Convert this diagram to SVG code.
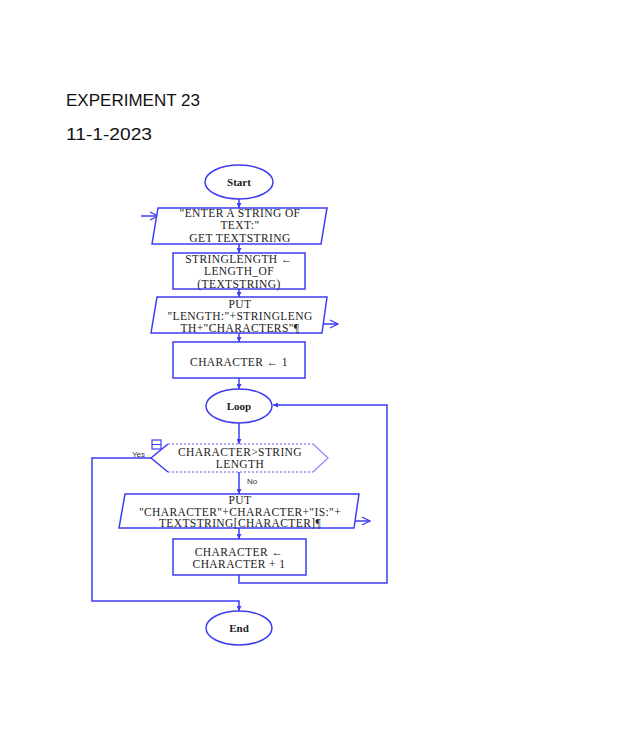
<svg xmlns="http://www.w3.org/2000/svg" width="641" height="741" viewBox="0 0 641 741">
<style>
.sh{fill:#fff;stroke:#3d3df2;stroke-width:1.5}
.ln{fill:none;stroke:#3d3df2;stroke-width:1.5}
.t{font-family:"Liberation Serif",serif;font-size:11.5px;letter-spacing:0.4px;fill:#222;text-anchor:middle}
.ts{font-family:"Liberation Serif",serif;font-size:11px;fill:#222;text-anchor:middle;font-weight:bold}
.hd{font-family:"Liberation Sans",Arial,sans-serif;font-size:17px;fill:#111}
.lb{font-family:"Liberation Sans",Arial,sans-serif;font-size:8px;fill:#333}
</style>
<defs>
<marker id="ah" viewBox="0 0 6 6" refX="6" refY="3" markerWidth="5" markerHeight="5" orient="auto" markerUnits="userSpaceOnUse">
<path d="M0,0 L6,3 L0,6 z" fill="#3d3df2"/>
</marker>
<marker id="ch" viewBox="0 0 10 10" refX="9" refY="5" markerWidth="10" markerHeight="10" orient="auto" markerUnits="userSpaceOnUse">
<path d="M1,1 L9,5 L1,9" fill="none" stroke="#3d3df2" stroke-width="1.3"/>
</marker>
</defs>
<rect width="641" height="741" fill="#fff"/>
<text class="hd" x="66" y="106" textLength="134" lengthAdjust="spacingAndGlyphs">EXPERIMENT 23</text>
<text class="hd" x="66" y="140" textLength="86" lengthAdjust="spacingAndGlyphs">11-1-2023</text>

<g id="connectors">
<line class="ln" x1="239" y1="199" x2="239" y2="208" marker-end="url(#ah)"/>
<line class="ln" x1="239" y1="244" x2="239" y2="253" marker-end="url(#ah)"/>
<line class="ln" x1="239" y1="289" x2="239" y2="297" marker-end="url(#ah)"/>
<line class="ln" x1="239" y1="333" x2="239" y2="342" marker-end="url(#ah)"/>
<line class="ln" x1="239" y1="378" x2="239" y2="389" marker-end="url(#ah)"/>
<line class="ln" x1="239" y1="423" x2="239" y2="444" marker-end="url(#ah)"/>
<line class="ln" x1="239" y1="472" x2="239" y2="494" marker-end="url(#ah)"/>
<line class="ln" x1="239" y1="528" x2="239" y2="539" marker-end="url(#ah)"/>
<polyline class="ln" points="239,575 239,583 387,583 387,405 273,405" marker-end="url(#ah)"/>
<polyline class="ln" points="151,458 92,458 92,601 239,601 239,611" marker-end="url(#ah)"/>
<line class="ln" x1="141" y1="216" x2="158" y2="216" marker-end="url(#ch)"/>
<line class="ln" x1="322" y1="324" x2="338" y2="324" marker-end="url(#ch)"/>
<line class="ln" x1="354" y1="521" x2="370" y2="521" marker-end="url(#ch)"/>
<text class="lb" x="132" y="457">Yes</text>
<text class="lb" x="247" y="484">No</text>
</g>

<g id="start">
<ellipse class="sh" cx="239" cy="182" rx="34" ry="17"/>
<text class="ts" x="239" y="186" font-size="10">Start</text>
</g>

<g id="input">
<polygon class="sh" points="158,208 327,208 321,244 152,244"/>
<text class="t" x="240" y="217">"ENTER A STRING OF</text>
<text class="t" x="240" y="229">TEXT:"</text>
<text class="t" x="240" y="241.5">GET TEXTSTRING</text>
</g>

<g id="strlen">
<rect class="sh" x="173" y="253" width="132" height="36"/>
<text class="t" x="239" y="263">STRINGLENGTH ←</text>
<text class="t" x="239" y="275">LENGTH_OF</text>
<text class="t" x="239" y="287.5">(TEXTSTRING)</text>
</g>

<g id="put1">
<polygon class="sh" points="157,297 327,297 322,333 151,333"/>
<text class="t" x="240" y="307.5">PUT</text>
<text class="t" x="240" y="319.5">"LENGTH:"+STRINGLENG</text>
<text class="t" x="240" y="331.5">TH+"CHARACTERS"¶</text>
</g>

<g id="init">
<rect class="sh" x="173" y="342" width="132" height="36"/>
<text class="t" x="239" y="366">CHARACTER ← 1</text>
</g>

<g id="loop">
<ellipse class="sh" cx="239" cy="406" rx="33" ry="17"/>
<text class="ts" x="239" y="410">Loop</text>
</g>

<g id="decision">
<polygon points="168,444 313,444 328,458 313,472 168,472 151,458" fill="#fff" stroke="none"/>
<polyline class="ln" points="168,444 151,458 168,472"/>
<polyline points="168,444 313,444" fill="none" stroke="#8f8ff5" stroke-width="1.3" stroke-dasharray="2,2"/>
<polyline points="168,472 313,472" fill="none" stroke="#8f8ff5" stroke-width="1.3" stroke-dasharray="2,2"/>
<polyline points="313,444 328,458 313,472" fill="none" stroke="#8f8ff5" stroke-width="1.3"/>
<rect x="152" y="440" width="9" height="9" fill="#fff" stroke="#3d3df2" stroke-width="1.2"/>
<line x1="152" y1="444.5" x2="161" y2="444.5" stroke="#3d3df2" stroke-width="1"/>
<text class="t" x="240" y="455.5">CHARACTER&gt;STRING</text>
<text class="t" x="240" y="467.5">LENGTH</text>
</g>

<g id="put2">
<polygon class="sh" points="125,494 359,494 354,528 119,528"/>
<text class="t" x="240" y="503.5">PUT</text>
<text class="t" x="240" y="515.5">"CHARACTER"+CHARACTER+"IS:"+</text>
<text class="t" x="240" y="527">TEXTSTRING[CHARACTER]¶</text>
</g>

<g id="incr">
<rect class="sh" x="173" y="539" width="133" height="36"/>
<text class="t" x="239" y="555.5">CHARACTER ←</text>
<text class="t" x="239" y="567.5">CHARACTER + 1</text>
</g>

<g id="end">
<ellipse class="sh" cx="239" cy="628" rx="33" ry="17"/>
<text class="ts" x="239" y="632">End</text>
</g>
</svg>
